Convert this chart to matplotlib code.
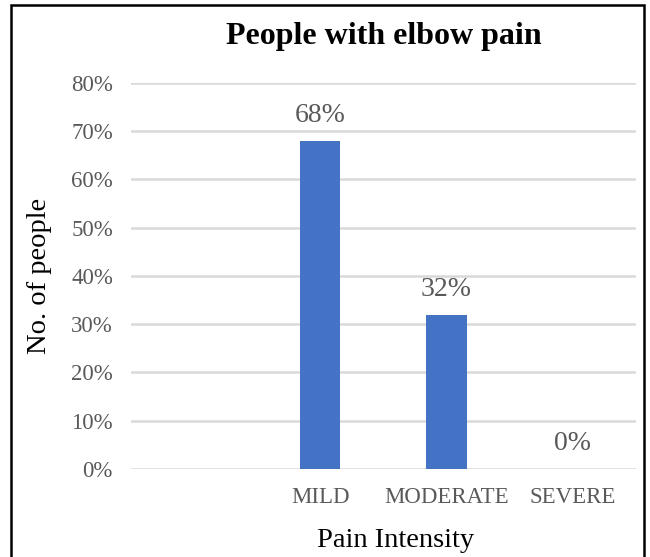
import matplotlib.pyplot as plt
from matplotlib.patches import Rectangle

categories = ["", "MILD", "MODERATE", "SEVERE"]
shares = [None, 0.68, 0.32, 0.0]
value_labels = ["", "68%", "32%", "0%"]
y_ticks = [0.0, 0.1, 0.2, 0.3, 0.4, 0.5, 0.6, 0.7, 0.8]
y_tick_labels = ["0%", "10%", "20%", "30%", "40%", "50%", "60%", "70%", "80%"]

plt.rcParams["font.family"] = ["Liberation Serif", "DejaVu Serif"]

fig = plt.figure(figsize=(6.5, 5.57), dpi=100)
ax = fig.add_axes([0.2015, 0.158, 0.7765, 0.693])

xs = list(range(len(categories)))
heights = [0 if v is None else v for v in shares]
ax.bar(xs, heights, width=0.32, color="#4472C4", zorder=3)

for x, v, lab in zip(xs, shares, value_labels):
    if v is None:
        continue
    ax.annotate(lab, (x, v), xytext=(0, 9), textcoords="offset points",
                ha="center", va="bottom", fontsize=20, color="#595959")

ax.set_xlim(-0.5, len(categories) - 0.5)
ax.set_ylim(0, 0.8)
ax.set_yticks(y_ticks)
ax.set_yticklabels(y_tick_labels)
ax.set_xticks(xs)
ax.set_xticklabels(categories)
ax.tick_params(axis="both", length=0, labelsize=16.5, colors="#595959")
ax.tick_params(axis="y", pad=13)
ax.tick_params(axis="x", pad=13)
ax.yaxis.grid(True, color="#d9d9d9", linewidth=1.8, zorder=0)
for s in ax.spines.values():
    s.set_visible(False)

ax.set_title("People with elbow pain", fontsize=23, fontweight="bold", pad=28)
ax.set_ylabel("No. of people", fontsize=20.5, labelpad=14)
ax.set_xlabel("Pain Intensity", fontsize=20.5)
ax.xaxis.set_label_coords(0.525, -0.153)

fig.patches.append(Rectangle((11 / 650, -0.05), 633 / 650, 1.05 - 5 / 557,
                             transform=fig.transFigure, fill=False,
                             edgecolor="black", linewidth=1.8, clip_on=False))

fig.savefig("out.png", dpi=100)
plt.close(fig)
